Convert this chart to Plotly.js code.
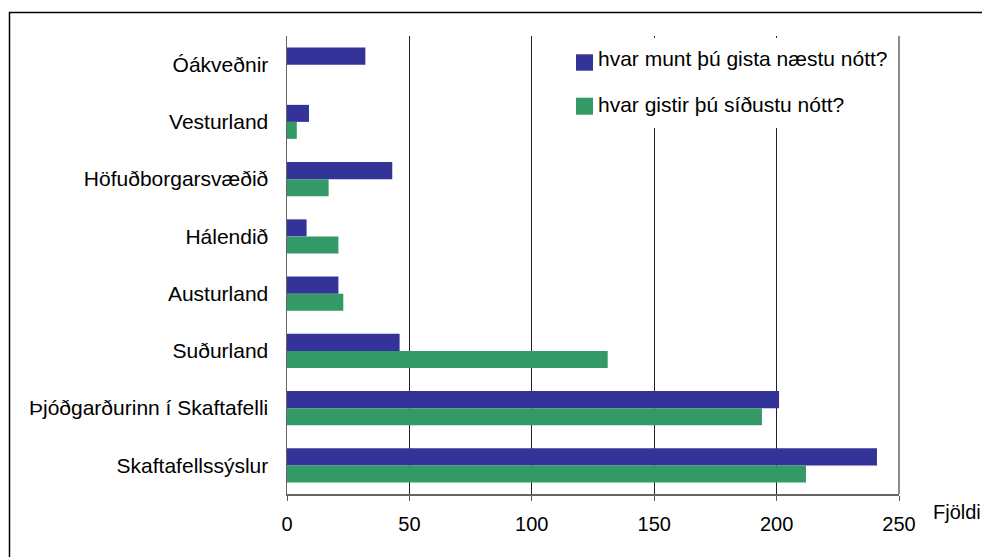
<!DOCTYPE html>
<html>
<head>
<meta charset="utf-8">
<script src="https://cdn.plot.ly/plotly-3.0.1.min.js"></script>
<style>html,body{margin:0;padding:0;background:#fff;}#chart{width:982px;height:557px;}</style>
</head>
<body>
<div id="chart"></div>
<script>
var categories = ["Óákveðnir", "Vesturland", "Höfuðborgarsvæðið", "Hálendið", "Austurland", "Suðurland", "Þjóðgarðurinn í Skaftafelli", "Skaftafellssýslur"];
var seriesNames = ["hvar munt þú gista næstu nótt?", "hvar gistir þú síðustu nótt?"];
var naestuNott = [32, 9, 43, 8, 21, 46, 201, 241];
var sidustuNott = [0, 4, 17, 21, 23, 131, 194, 212];
var xTickVals = [0, 50, 100, 150, 200, 250];
var xAxisLabel = "Fjöldi";

var colors = ["#333399", "#339966"];
var FONT = "Liberation Sans, Arial, sans-serif";

var traces = [
  {type: "bar", orientation: "h", name: seriesNames[0], y: categories, x: naestuNott,
   marker: {color: colors[0]}, showlegend: false, hoverinfo: "x+y"},
  {type: "bar", orientation: "h", name: seriesNames[1], y: categories, x: sidustuNott,
   marker: {color: colors[1]}, showlegend: false, hoverinfo: "x+y"}
];

function px2x(p){ return (p - 287) / 612; }
function py2y(p){ return (494 - p) / 458; }

var shapes = [
  // outer frame
  {type: "rect", xref: "paper", yref: "paper", x0: px2x(9.5), x1: px2x(995), y0: py2y(575), y1: py2y(12.5),
   line: {color: "#000", width: 1.5}, fillcolor: "rgba(0,0,0,0)", layer: "below"},
  // right border of plot area
  {type: "line", xref: "paper", yref: "paper", x0: 1, x1: 1, y0: 0, y1: 1,
   line: {color: "#666", width: 1.5}, layer: "above"},
  // legend background
  {type: "rect", xref: "paper", yref: "paper", x0: px2x(571), x1: px2x(894), y0: py2y(128), y1: py2y(38),
   line: {width: 0}, fillcolor: "#fff", layer: "above"},
  // legend keys
  {type: "rect", xref: "paper", yref: "paper", x0: px2x(576), x1: px2x(593), y0: py2y(70.7), y1: py2y(54.3),
   line: {width: 0}, fillcolor: colors[0], layer: "above"},
  {type: "rect", xref: "paper", yref: "paper", x0: px2x(576), x1: px2x(593), y0: py2y(114.7), y1: py2y(97.7),
   line: {width: 0}, fillcolor: colors[1], layer: "above"}
];

var annotations = [
  {xref: "paper", yref: "paper", x: px2x(596), y: py2y(59), xanchor: "left", yanchor: "middle",
   text: seriesNames[0], showarrow: false, font: {family: FONT, size: 21, color: "#000"}},
  {xref: "paper", yref: "paper", x: px2x(596), y: py2y(104), xanchor: "left", yanchor: "middle",
   text: seriesNames[1], showarrow: false, font: {family: FONT, size: 21, color: "#000"}},
  {xref: "paper", yref: "paper", x: px2x(931), y: py2y(512), xanchor: "left", yanchor: "middle",
   text: xAxisLabel, showarrow: false, font: {family: FONT, size: 20, color: "#000"}}
];

var layout = {
  width: 982, height: 557,
  margin: {l: 287, r: 83, t: 36, b: 63, pad: 0},
  paper_bgcolor: "#fff", plot_bgcolor: "#fff",
  font: {family: FONT, size: 21, color: "#000"},
  barmode: "group", bargap: 0.406, bargroupgap: 0,
  showlegend: false,
  xaxis: {
    range: [0, 250], tickvals: xTickVals, ticktext: xTickVals.map(String),
    ticks: "outside", ticklen: 5, tickwidth: 1, tickcolor: "#555",
    showline: true, linecolor: "#666", linewidth: 1.5,
    showgrid: true, gridcolor: "#222", gridwidth: 1, zeroline: false,
    tickfont: {family: FONT, size: 20, color: "#000"}, ticklabelstandoff: 6,
    fixedrange: true
  },
  yaxis: {
    type: "category", autorange: "reversed", categoryorder: "array", categoryarray: categories,
    ticks: "", showline: true, linecolor: "#666", linewidth: 1.5,
    showgrid: false, zeroline: false,
    tickfont: {family: FONT, size: 21, color: "#000"}, ticklabelstandoff: 13,
    fixedrange: true
  },
  shapes: shapes,
  annotations: annotations
};

Plotly.newPlot("chart", traces, layout, {displayModeBar: false, staticPlot: true});
</script>
</body>
</html>
